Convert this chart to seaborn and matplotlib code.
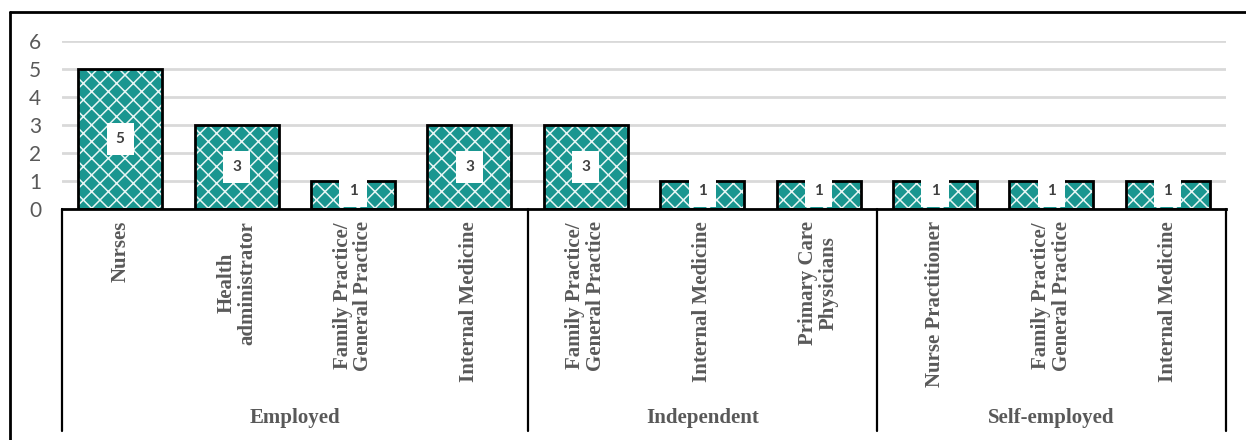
import matplotlib
matplotlib.use("Agg")
import matplotlib.pyplot as plt
from matplotlib.lines import Line2D
from matplotlib.patches import Rectangle
import matplotlib.transforms as mtransforms
import seaborn as sns
import pandas as pd

# ---- data ----
groups = ["Employed", "Employed", "Employed", "Employed",
          "Independent", "Independent", "Independent",
          "Self-employed", "Self-employed", "Self-employed"]
roles = ["Nurses", "Health\nadministrator", "Family Practice/\nGeneral Practice",
         "Internal Medicine",
         "Family Practice/\nGeneral Practice", "Internal Medicine",
         "Primary Care\nPhysicians",
         "Nurse Practitioner", "Family Practice/\nGeneral Practice",
         "Internal Medicine"]
counts = [5, 3, 1, 3, 3, 1, 1, 1, 1, 1]
group_names = ["Employed", "Independent", "Self-employed"]
y_ticks = [0, 1, 2, 3, 4, 5, 6]

df = pd.DataFrame({"group": groups, "role": roles, "count": counts})
df["slot"] = [f"{g}|{r}" for g, r in zip(groups, roles)]

sns.set_theme(style="white")
plt.rcParams["hatch.linewidth"] = 1.1

W, H = 1246, 440
fig = plt.figure(figsize=(W / 100, H / 100), dpi=100)
ax = fig.add_axes([62 / W, (H - 209) / H, (1226 - 62) / W, (209 - 41) / H])

teal = "#1a9690"
sns.barplot(data=df, x="slot", y="count", order=list(df["slot"]),
            color=teal, saturation=1, width=0.72, ax=ax)

for p in list(ax.patches):
    p.set_facecolor(teal)
    p.set_edgecolor("#e8f6f5")
    p.set_hatch("xx")
    p.set_linewidth(0)
    ax.add_patch(Rectangle(p.get_xy(), p.get_width(), p.get_height(),
                           fill=False, edgecolor="black", linewidth=2.0,
                           zorder=p.get_zorder() + 0.1))

ax.set_ylim(0, 6)
ax.set_xlim(-0.5, len(counts) - 0.5)
ax.set_yticks(y_ticks)
ax.set_yticklabels([str(t) for t in y_ticks], fontfamily="Lato",
                   fontsize=15, color="#595959")
ax.tick_params(axis="y", length=0, pad=15)
ax.set_xticks([])
ax.set_xlabel("")
ax.set_ylabel("")
ax.yaxis.grid(True, color="#d9d9d9", linewidth=2)
ax.set_axisbelow(True)
for s in ["top", "right", "left"]:
    ax.spines[s].set_visible(False)
ax.spines["bottom"].set_color("black")
ax.spines["bottom"].set_linewidth(2)
ax.spines["bottom"].set_zorder(5)

# value labels in white boxes
for i, v in enumerate(counts):
    ax.text(i, max(v / 2, 0.64), str(v), ha="center", va="center",
            fontsize=11, fontweight="bold", color="#404040",
            fontfamily="Lato", zorder=6,
            bbox=dict(boxstyle="square,pad=0.6", facecolor="white",
                      edgecolor="none"))

# category table beneath the axis
trans = mtransforms.blended_transform_factory(ax.transData, fig.transFigure)
serif = "Liberation Serif"
for i, r in enumerate(roles):
    ax.text(i, (H - 221) / H, r, transform=trans, rotation=90,
            ha="center", va="top", multialignment="center",
            fontfamily=serif, fontweight="bold", fontsize=15,
            color="#595959", linespacing=1.05)

bounds = [-0.5, 3.5, 6.5, 9.5]
for b in bounds:
    ax.add_line(Line2D([b, b], [(H - 209) / H, (H - 431) / H],
                       transform=trans, color="black", linewidth=1.6,
                       clip_on=False))
for k, g in enumerate(group_names):
    xc = (bounds[k] + bounds[k + 1]) / 2
    ax.text(xc, (H - 418) / H, g, transform=trans, ha="center", va="center",
            fontfamily=serif, fontweight="bold", fontsize=15,
            color="#595959")

# outer frame (top and left edges)
fig.add_artist(Line2D([10 / W, 10 / W], [0, (H - 12) / H],
                      transform=fig.transFigure, color="black", linewidth=2))
fig.add_artist(Line2D([10 / W, 1], [(H - 12) / H, (H - 12) / H],
                      transform=fig.transFigure, color="black", linewidth=2))

fig.savefig("out.png", dpi=100)
